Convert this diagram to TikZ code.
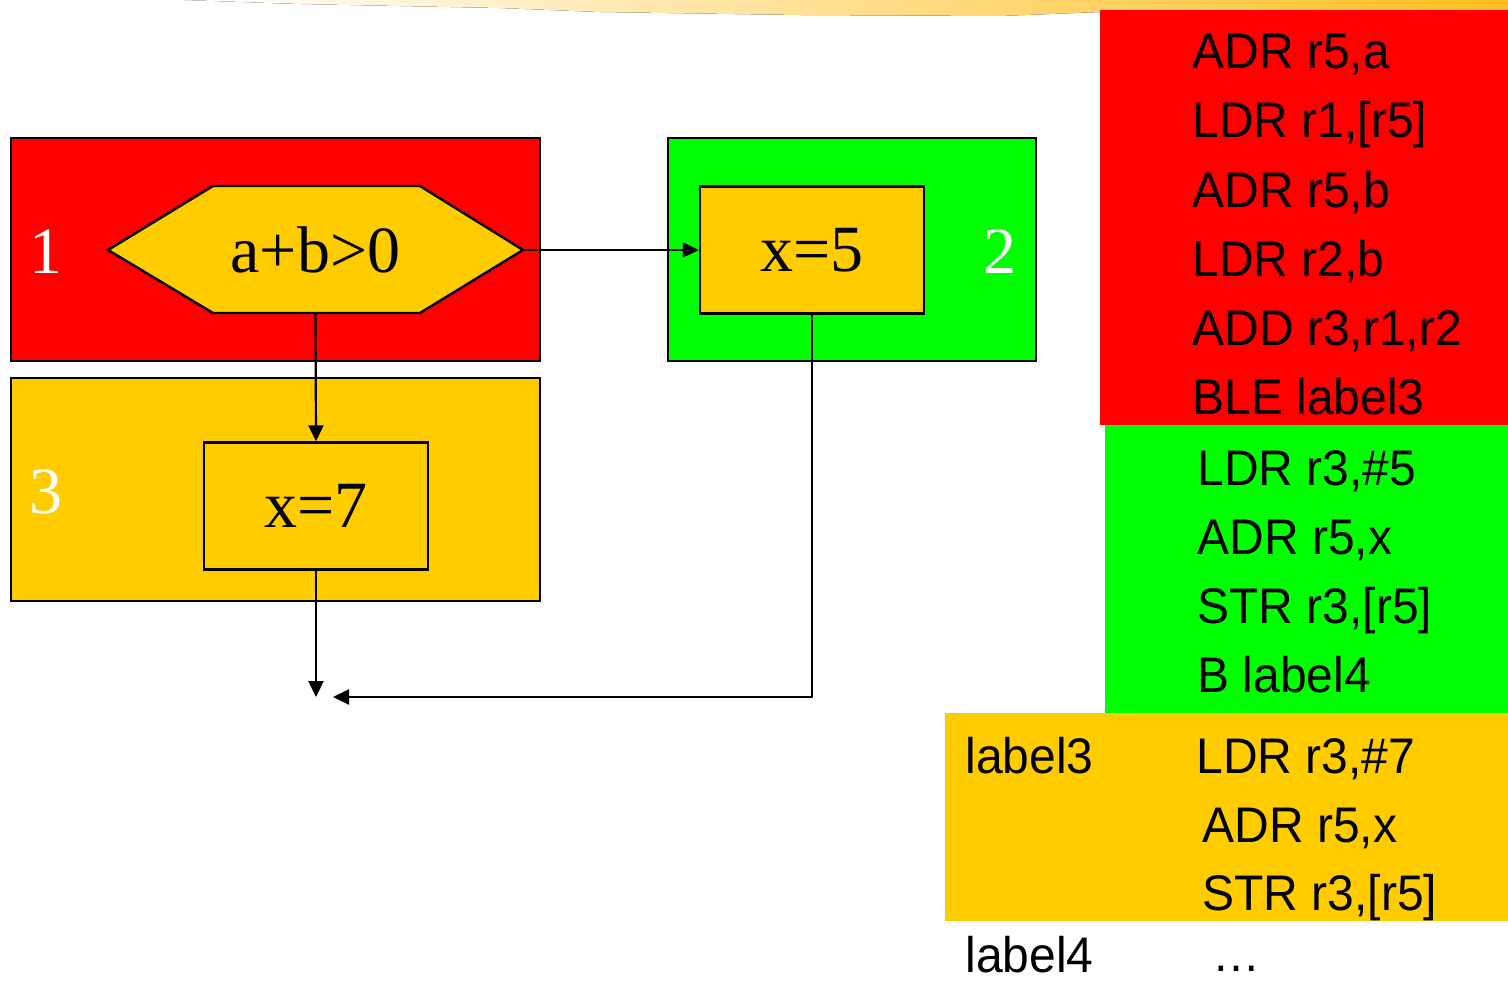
\documentclass[tikz,border=0pt]{standalone}
\usepackage{fontspec}
\setmainfont{Liberation Serif}
\newfontfamily\codefont[FakeStretch=0.96]{Liberation Sans}
\usetikzlibrary{arrows.meta, fit}
\definecolor{gold}{HTML}{FFCC00}
\definecolor{brightgreen}{HTML}{00FF00}
\definecolor{brush}{RGB}{255,190,30}

\begin{document}
\begin{tikzpicture}[
    x=0.5pt, y=-0.5pt,
    region/.style={draw, line width=1.2pt, inner sep=0pt},
    stmt/.style={
      draw, line width=1.2pt, fill=gold,
      minimum width=112pt, minimum height=63.5pt,
      font=\fontsize{33}{33}\selectfont
    },
    num/.style={text=white, font=\fontsize{33}{33}\selectfont},
    codebg/.style={draw=none, inner sep=0pt},
    code/.style={anchor=base west, inner sep=0pt, font=\codefont\fontsize{25}{25}\selectfont},
    arrow/.style={-{Triangle[length=8pt,width=7.5pt]}, line width=1.1pt}
]
\useasboundingbox (0,0) rectangle (1508,984);

% --- brush stroke on top ---
\fill[left color=white, right color=brush]
  (185,0) -- (1508,0) -- (1508,10) -- (1100,12) -- (1000,16) -- (800,15)
  -- (600,12) -- (500,8) -- (300,4) -- cycle;

% --- flow chart ---
\node[region, fill=red, fit={(11,138) (540,361)}] (reg1) {};
\node[region, fill=brightgreen, fit={(668,138) (1036,361)}] (reg2) {};
\node[region, fill=gold, fit={(11,378) (540,601)}] (reg3) {};

\node[num] (n1) at (46,252) {1};
\node[num] (n2) at (1000,252) {2};
\node[num] (n3) at (46,492) {3};

\draw[line width=1.2pt, fill=gold]
  (108,250) -- (213,186) -- (420,186) -- (523,250) -- (420,313) -- (213,313) -- cycle;
\node[minimum width=207.5pt, minimum height=63.5pt, inner sep=0pt,
      font=\fontsize{33}{33}\selectfont] (cond) at (315.5,250) {a+b>0};

\node[stmt] (s5) at (812,250) {x=5};
\node[stmt] (s7) at (316,506) {x=7};

\coordinate (join) at (316,697);
\coordinate (joinR) at (333,697);

\draw[arrow] (cond.east) -- (s5.west);
\draw[arrow] (cond.south) -- (s7.north);
\draw[arrow] (s7.south) -- (join);
\draw[arrow] (s5.south) |- (joinR);

% --- assembly listing ---
\node[codebg, fill=red, fit={(1100,10) (1508,425)}] (blkA) {};
\node[codebg, fill=brightgreen, fit={(1105,425) (1508,713)}] (blkB) {};
\node[codebg, fill=gold, fit={(945,713) (1508,921)}] (blkC) {};

\foreach \txt [count=\i from 0] in {{ADR r5,a},{LDR r1,[r5]},{ADR r5,b},{LDR r2,b},{ADD r3,r1,r2},{BLE label3}}
  \node[code] (lineA\i) at (1192,{69+69*\i}) {\txt};

\foreach \txt [count=\i from 0] in {{LDR r3,\#5},{ADR r5,x},{STR r3,[r5]},{B label4}}
  \node[code] (lineB\i) at (1197,{485+69*\i}) {\txt};

\node[code] (lab3) at (965,773) {label3};
\node[code] (lineC0) at (1196,773) {LDR r3,\#7};
\node[code] (lineC1) at (1202,842) {ADR r5,x};
\node[code] (lineC2) at (1202,910) {STR r3,[r5]};

\node[code] (lab4) at (965,972) {label4};
\node[code] (dots) at (1212,971) {\ldots};

\end{tikzpicture}
\end{document}
